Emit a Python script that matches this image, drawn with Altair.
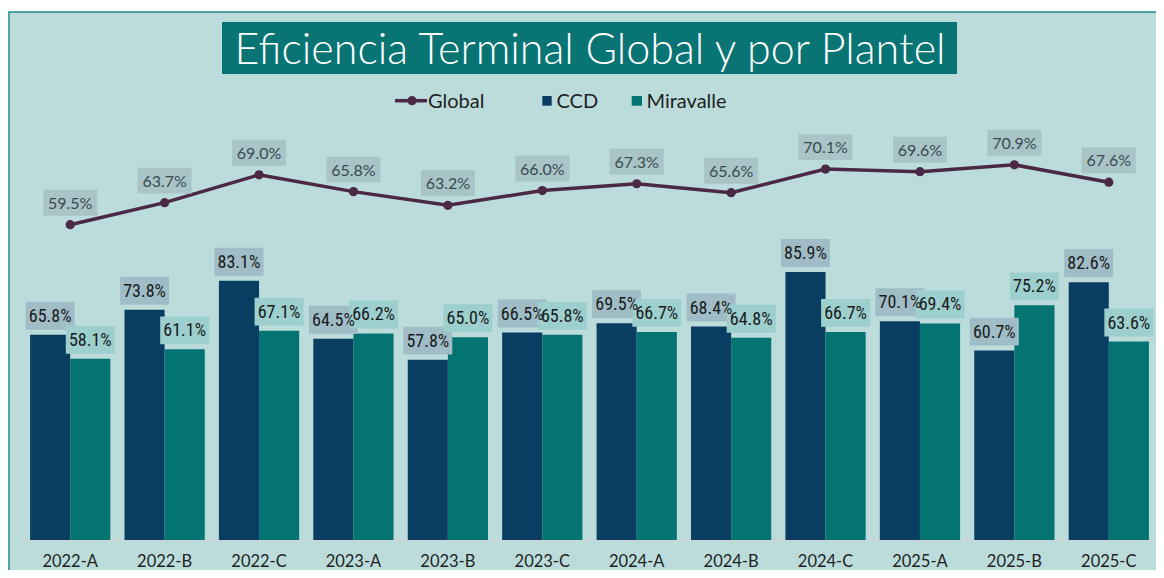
import altair as alt
import pandas as pd

categorias = ["2022-A", "2022-B", "2022-C", "2023-A", "2023-B", "2023-C",
              "2024-A", "2024-B", "2024-C", "2025-A", "2025-B", "2025-C"]
global_vals = [59.5, 63.7, 69.0, 65.8, 63.2, 66.0, 67.3, 65.6, 70.1, 69.6, 70.9, 67.6]
ccd_vals = [65.8, 73.8, 83.1, 64.5, 57.8, 66.5, 69.5, 68.4, 85.9, 70.1, 60.7, 82.6]
mira_vals = [58.1, 61.1, 67.1, 66.2, 65.0, 65.8, 66.7, 64.8, 66.7, 69.4, 75.2, 63.6]
series = ["CCD", "Miravalle"]
titulo = "Eficiencia Terminal Global y por Plantel"

C_CCD = "#0a3d62"
C_MIRA = "#037472"
C_LINE = "#4b2845"
C_BG = "#bbdcdb"
C_TITLE = "#087473"
C_BORDER = "#1a8a8a"

bars_df = pd.DataFrame({
    "cat": categorias * 2,
    "serie": ["CCD"] * len(categorias) + ["Miravalle"] * len(categorias),
    "valor": ccd_vals + mira_vals,
})
glob_df = pd.DataFrame({"cat": categorias, "valor": global_vals})
one = pd.DataFrame({"t": [titulo]})

W, H = 1133, 417
Y1 = [0, 133.65]
Y2 = [-0.56, 78.87]
TOP = 115
d = 125 - (TOP + 8)  # shift so decorations keep their page positions

x_enc = alt.X("cat:N", sort=categorias,
              scale=alt.Scale(paddingInner=0.15, paddingOuter=0.075),
              axis=alt.Axis(title=None, labelAngle=0, ticks=False, domainColor="#d4d4d4",
                            domainWidth=1.2, labelFont="Lato", labelFontSize=16.5,
                            labelColor="#1f1f1f", labelPadding=13, zindex=1))
xo_enc = alt.XOffset("serie:N", sort=series, scale=alt.Scale(paddingInner=0, paddingOuter=0))
y1_enc = alt.Y("valor:Q", scale=alt.Scale(domain=Y1), axis=None)
y2_enc = alt.Y("valor:Q", scale=alt.Scale(domain=Y2), axis=None)

# decoration: background panel + border
bg = alt.Chart(one).mark_rect(fill=C_BG, stroke=C_BORDER, strokeWidth=1.5).encode(
    x=alt.value(-14), x2=alt.value(1300), y=alt.value(-113 + d), y2=alt.value(700))
title_box = alt.Chart(one).mark_rect(fill=C_TITLE).encode(
    x=alt.value(199), x2=alt.value(934), y=alt.value(-103 + d), y2=alt.value(-51 + d))
title_txt = alt.Chart(one).mark_text(font="Lato", fontSize=43, fontWeight=300, color="white",
                                     align="center", baseline="middle").encode(
    x=alt.value(567), y=alt.value(-74 + d), text="t:N")

# legend
leg_line = alt.Chart(one).mark_rule(color=C_LINE, strokeWidth=3.5).encode(
    x=alt.value(372), x2=alt.value(404), y=alt.value(-24.3 + d))
leg_dot = alt.Chart(one).mark_circle(color=C_LINE, size=85, opacity=1).encode(
    x=alt.value(389), y=alt.value(-24.3 + d))
leg_ccd = alt.Chart(one).mark_rect(fill=C_CCD).encode(
    x=alt.value(519.3), x2=alt.value(528.7), y=alt.value(-29 + d), y2=alt.value(-19.3 + d))
leg_mira = alt.Chart(one).mark_rect(fill=C_MIRA).encode(
    x=alt.value(608.7), x2=alt.value(619), y=alt.value(-29 + d), y2=alt.value(-19.3 + d))
leg_style = dict(font="Lato", fontSize=20, color="#1f1f1f", align="left", baseline="middle")
leg_t1 = alt.Chart(pd.DataFrame({"t": ["Global"]})).mark_text(**leg_style).encode(
    x=alt.value(405), y=alt.value(-23.5 + d), text="t:N")
leg_t2 = alt.Chart(pd.DataFrame({"t": ["CCD"]})).mark_text(**leg_style).encode(
    x=alt.value(533.5), y=alt.value(-23.5 + d), text="t:N")
leg_t3 = alt.Chart(pd.DataFrame({"t": ["Miravalle"]})).mark_text(**leg_style).encode(
    x=alt.value(623.5), y=alt.value(-23.5 + d), text="t:N")

# bars
bars = alt.Chart(bars_df).mark_bar().encode(
    x=x_enc, xOffset=xo_enc, y=y1_enc,
    color=alt.Color("serie:N", scale=alt.Scale(domain=series, range=[C_CCD, C_MIRA]), legend=None))

BOX_BAR = "M-1,-0.57L1,-0.57L1,0.57L-1,0.57Z"
BOX_GLB = "M-1,-0.48L1,-0.48L1,0.48L-1,0.48Z"

bar_boxes = alt.Chart(bars_df).mark_point(shape=BOX_BAR, filled=True, size=2401, opacity=1,
                                          strokeWidth=0, yOffset=-19).encode(
    x=x_enc, xOffset=xo_enc, y=y1_enc,
    fill=alt.Fill("serie:N", scale=alt.Scale(domain=series, range=["#a0bdc7", "#9ccfce"]),
                  legend=None))
bar_text = alt.Chart(bars_df).transform_calculate(
    lab="format(datum.valor, '.1f') + '%'"
).mark_text(font="Liberation Sans Narrow, Roboto Condensed, Roboto", fontSize=18,
            color="#1a1a1a", baseline="middle", align="center", dy=-18).encode(
    x=x_enc, xOffset=xo_enc, y=y1_enc, text="lab:N")

line = alt.Chart(glob_df).mark_line(color=C_LINE, strokeWidth=3.5).encode(x=x_enc, y=y2_enc)
pts = alt.Chart(glob_df).mark_circle(color=C_LINE, size=85, opacity=1).encode(x=x_enc, y=y2_enc)
g_boxes = alt.Chart(glob_df).mark_point(shape=BOX_GLB, filled=True, size=2916, opacity=1,
                                        strokeWidth=0, color="#a8c4c7", yOffset=-22).encode(
    x=x_enc, y=y2_enc)
g_text = alt.Chart(glob_df).transform_calculate(
    lab="format(datum.valor, '.1f') + '%'"
).mark_text(font="Lato", fontSize=16, color="#3a4a50", baseline="middle",
            align="center", dy=-21).encode(x=x_enc, y=y2_enc, text="lab:N")

chart = alt.layer(
    bg, title_box, title_txt, leg_line, leg_dot, leg_ccd, leg_mira, leg_t1, leg_t2, leg_t3,
    bars, bar_boxes, bar_text, line, pts, g_boxes, g_text
).resolve_scale(y="independent", fill="independent").properties(
    width=W, height=H,
    padding={"left": 15, "top": TOP, "right": 0, "bottom": 562 - TOP - H},
    autosize=alt.AutoSizeParams(type="none"),
    background="white",
).configure_view(stroke=None)

chart.save("out.html", embed_options={"renderer": "svg", "actions": False})
